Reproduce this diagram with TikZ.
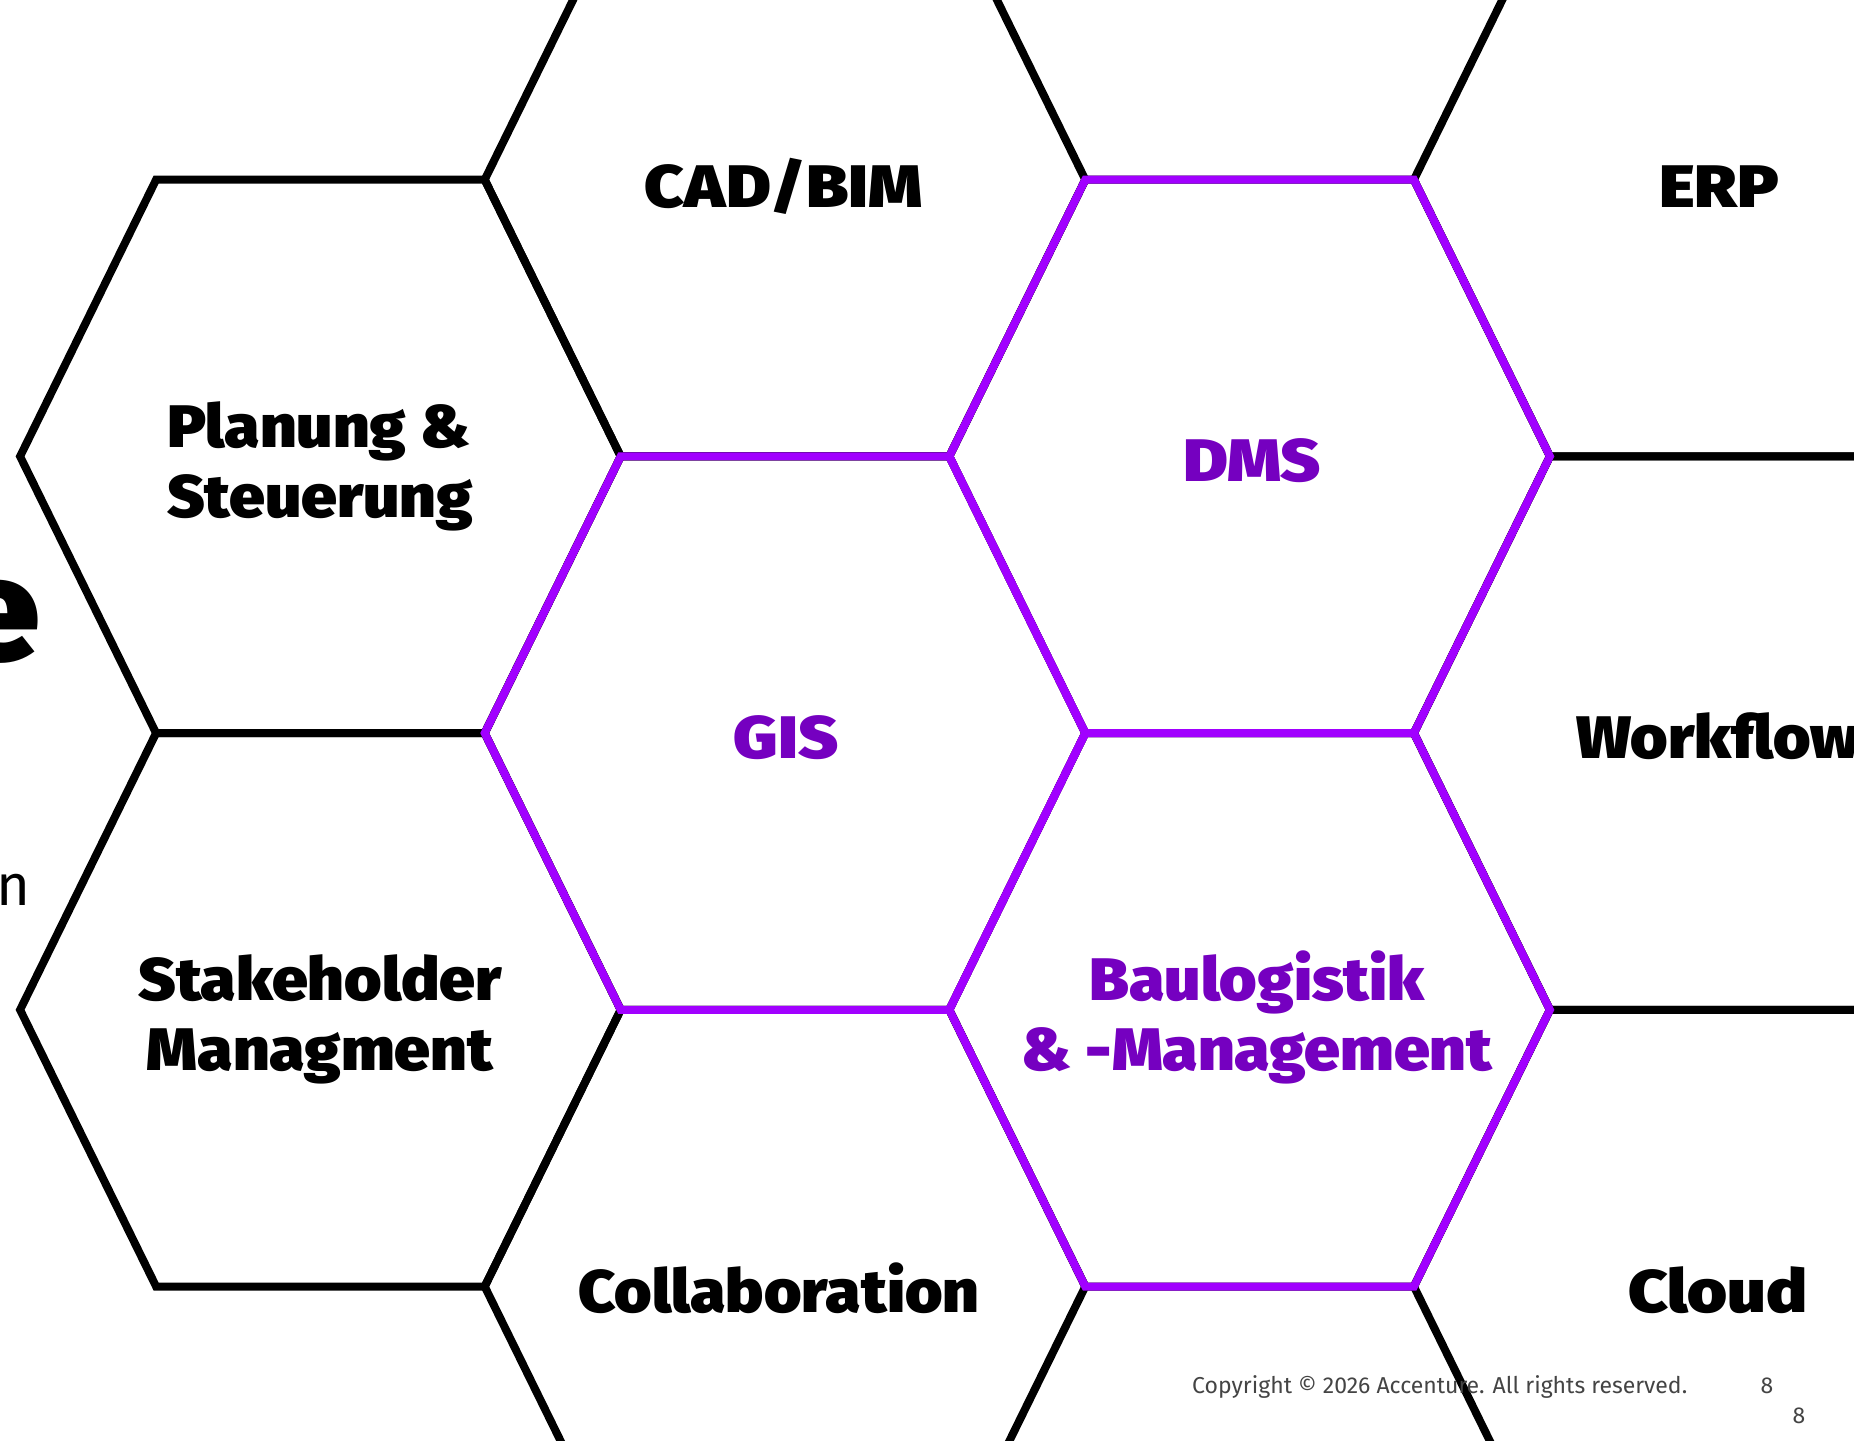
\documentclass[tikz,border=0pt]{standalone}
\usepackage{fontspec}
\setmainfont{Fira Sans}
\newfontfamily\heavy{Fira Sans Black}[FakeStretch=1.07]
\newfontfamily\heavywide{Fira Sans Black}[FakeStretch=1.14]
\definecolor{accline}{HTML}{A100FF}
\definecolor{acctext}{HTML}{7500C0}
\definecolor{copygray}{HTML}{444444}
\newcommand\hexcell[2]{(#1-300.3,#2) -- (#1-164.3,#2-276.7) -- (#1+164.3,#2-276.7) -- (#1+300.3,#2) -- (#1+164.3,#2+276.7) -- (#1-164.3,#2+276.7) -- cycle}
\begin{document}
\begin{tikzpicture}[x=1pt,y=-1pt,
  hexblack/.style={line width=8pt, draw=black},
  hexpurple/.style={line width=8pt, draw=accline},
  lbl/.style={font=\heavy\fontsize{60}{70}\selectfont, inner sep=0pt, anchor=base},
  wlbl/.style={lbl, font=\heavywide\fontsize{60}{70}\selectfont},
  plbl/.style={lbl, text=acctext},
  foot/.style={font=\fontsize{23}{26}\selectfont, text=copygray, inner sep=0pt}]
\useasboundingbox (0,0) rectangle (1854,1440);
\clip (0,0) rectangle (1854,1440);
\fill[white] (0,0) rectangle (1854,1440);
% black honeycomb
\draw[hexblack] \hexcell{320.4}{456.4};
\draw[hexblack] \hexcell{320.4}{1009.8};
\draw[hexblack] \hexcell{785.0}{179.7};
\draw[hexblack] \hexcell{785.0}{733.1};
\draw[hexblack] \hexcell{785.0}{1286.5};
\draw[hexblack] \hexcell{1249.6}{456.4};
\draw[hexblack] \hexcell{1249.6}{1009.8};
\draw[hexblack] \hexcell{1714.2}{179.7};
\draw[hexblack] \hexcell{1714.2}{733.1};
\draw[hexblack] \hexcell{1714.2}{1286.5};
% highlighted cells
\draw[hexpurple] \hexcell{785.0}{733.1};
\draw[hexpurple] \hexcell{1249.6}{456.4};
\draw[hexpurple] \hexcell{1249.6}{1009.8};
% labels
\node[wlbl] (cad) at (784,207) {CAD/BIM};
\node[wlbl] (erp) at (1719,207) {ERP};
\node[lbl, anchor=base west] (plan1) at (167,447) {Planung \&};
\node[lbl, anchor=base west] (plan2) at (167,517) {Steuerung};
\node[wlbl, text=acctext] (dms) at (1252,481) {DMS};
\node[wlbl, text=acctext] (gis) at (786,758) {GIS};
\node[lbl, anchor=base west] (wf) at (1576,758) {Workflow};
\node[lbl] (stake1) at (320,1000) {Stakeholder};
\node[lbl] (stake2) at (320,1070) {Managment};
\node[plbl] (bau1) at (1257,1000) {Baulogistik};
\node[plbl] (bau2) at (1257,1070) {\& -Management};
\node[lbl] (collab) at (779,1312) {Collaboration};
\node[wlbl] (cloud) at (1718,1312) {Cloud};
% cut-off text at left edge
\node[font=\heavy\fontsize{145}{150}\selectfont, inner sep=0pt, anchor=base east] (bige) at (40,660) {e};
\node[font=\fontsize{58}{62}\selectfont, inner sep=0pt, anchor=base east] (smalln) at (31,905) {n};
% footer
\node[foot, anchor=base west] (copy) at (1192,1393) {Copyright © 2026 Accenture. All rights reserved.};
\node[foot, anchor=base] (page1) at (1767,1393) {8};
\node[foot, anchor=base] (page2) at (1799,1423) {8};
\end{tikzpicture}
\end{document}
